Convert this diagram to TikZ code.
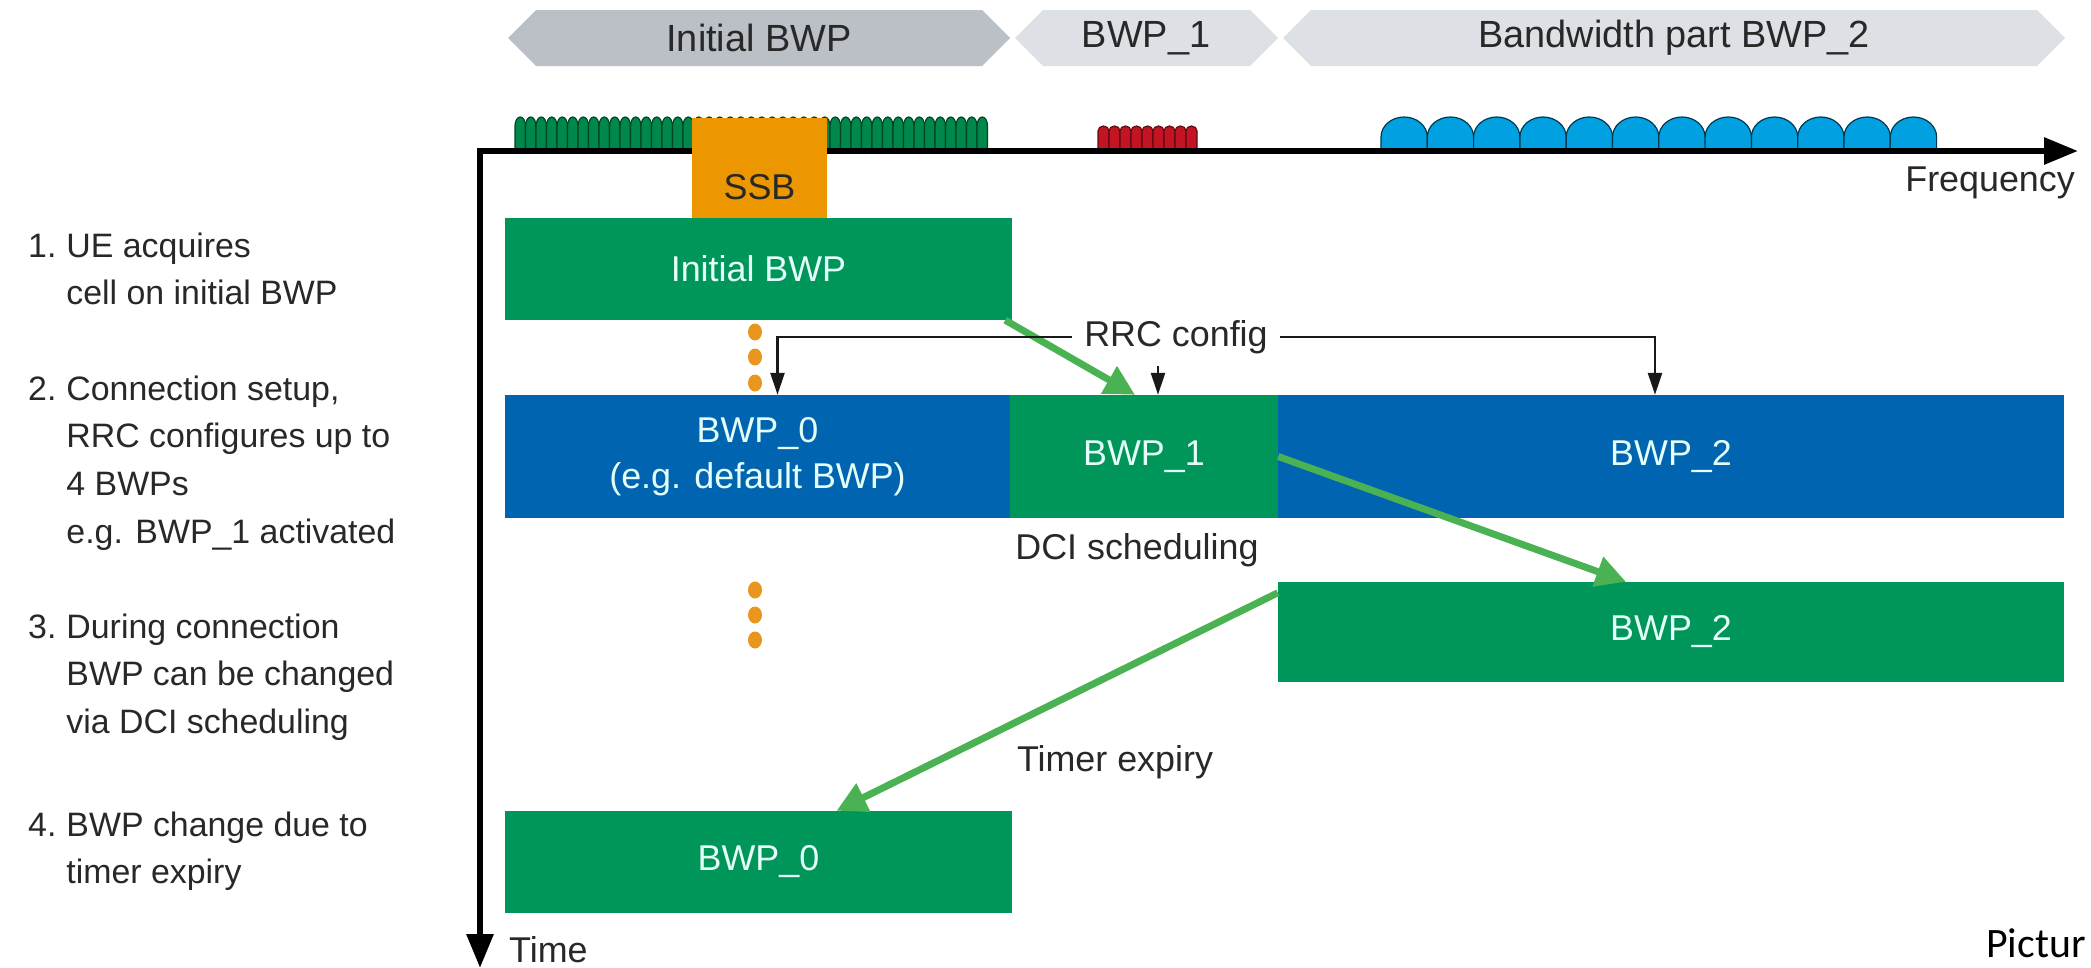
\documentclass[tikz,border=0pt]{standalone}
\usepackage{fontspec}
\setmainfont{Liberation Sans}
\newfontfamily\captionfont{Carlito}
\usetikzlibrary{arrows.meta}

\definecolor{bwpgreen}{RGB}{0,150,90}
\definecolor{bwpblue}{RGB}{0,100,176}
\definecolor{ssborange}{RGB}{236,150,0}
\definecolor{switchgreen}{RGB}{74,178,82}
\definecolor{dotorange}{RGB}{232,150,30}
\definecolor{banddark}{RGB}{187,192,198}
\definecolor{bandlight}{RGB}{221,224,228}
\definecolor{boxtext}{RGB}{228,255,250}
\definecolor{inkgray}{RGB}{40,40,40}
\definecolor{scsgreen}{RGB}{0,135,75}
\definecolor{scsred}{RGB}{195,20,35}
\definecolor{scsblue}{RGB}{0,160,225}

\tikzset{
  lbl/.style={inner sep=0pt, text=inkgray, font=\fontsize{36}{46}\selectfont},
  bandtext/.style={inner sep=0pt, text=inkgray, font=\fontsize{38}{46}\selectfont},
  steptext/.style={inner sep=0pt, anchor=base west, text=inkgray, font=\fontsize{34}{48}\selectfont},
  bwpbox/.style={inner sep=0pt, align=center, text=boxtext, font=\fontsize{36}{46}\selectfont},
  tooth/.style={line width=1.2bp},
  axisline/.style={line width=6bp, {Triangle[length=34bp,width=26bp]}-{Triangle[length=34bp,width=26bp]}},
  rrcline/.style={draw=black!90, line width=2.5bp, -{Triangle[length=22bp,width=14bp]}},
  bwpswitch/.style={draw=switchgreen, line width=7bp, -{Triangle[length=30bp,width=30bp]}},
}

\begin{document}
\begin{tikzpicture}[x=1bp,y=-1bp]
\useasboundingbox (0,0) rectangle (2091,968);

% bandwidth parts along the carrier
\fill[banddark] (508,38) -- (536,10) -- (982,10) -- (1010,38) -- (982,66) -- (536,66) -- cycle;
\fill[bandlight] (1015,38) -- (1043,10) -- (1250,10) -- (1278,38) -- (1250,66) -- (1043,66) -- cycle;
\fill[bandlight] (1283,38) -- (1311,10) -- (2037,10) -- (2065,38) -- (2037,66) -- (1311,66) -- cycle;
\node[bandtext] (bandInit) at (759,38) {Initial BWP};
\node[bandtext] (bandOne) at (1146,38) {BWP\_1};
\node[bandtext] (bandTwo) at (1674,38) {Bandwidth part BWP\_2};

% subcarriers (numerology per BWP)
\foreach \i in {0,...,44} {
  \pgfmathsetmacro\x{515+\i*10.5}
  \filldraw[tooth, fill=scsgreen, draw=scsgreen!50!black] (\x,151) -- (\x,126)
    arc[start angle=180, end angle=360, x radius=5.25, y radius=9] -- (\x+10.5,151) -- cycle;
}
\foreach \i in {0,...,8} {
  \pgfmathsetmacro\x{1098+\i*11}
  \filldraw[tooth, fill=scsred, draw=scsred!50!black] (\x,151) -- (\x,131)
    arc[start angle=180, end angle=360, x radius=5.5, y radius=5] -- (\x+11,151) -- cycle;
}
\foreach \i in {0,...,11} {
  \pgfmathsetmacro\x{1381+\i*46.3}
  \filldraw[tooth, fill=scsblue, draw=scsblue!35!black] (\x,151) -- (\x,137)
    arc[start angle=180, end angle=360, x radius=23.15, y radius=20] -- (\x+46.3,151) -- cycle;
}

% frequency / time axes
\coordinate (freqEnd) at (2078,151);
\coordinate (origin) at (480,151);
\coordinate (timeEnd) at (480,968);
\draw[axisline] (freqEnd) -- (origin) -- (timeEnd);
\node[lbl, anchor=east] (freq) at (2075,183) {Frequency};
\node[lbl, anchor=west] (time) at (509,950) {Time};

% BWP boxes over time
\node[bwpbox, fill=ssborange, minimum width=135bp, minimum height=100bp] (ssb) at (759.5,168) {};
\node[lbl] (ssbLabel) at (759.5,187) {SSB};
\node[bwpbox, fill=bwpgreen, minimum width=507bp, minimum height=102bp] (init) at (758.5,269) {Initial BWP};
\node[bwpbox, fill=bwpblue, minimum width=505bp, minimum height=123bp] (bwpA) at (757.5,456.5) {BWP\_0\\(e.g. default BWP)};
\node[bwpbox, fill=bwpgreen, minimum width=268bp, minimum height=123bp] (bwpB) at (1144,456.5) {BWP\_1};
\node[bwpbox, fill=bwpblue, minimum width=786bp, minimum height=123bp] (bwpC) at (1671,456.5) {BWP\_2};
\node[bwpbox, fill=bwpgreen, minimum width=786bp, minimum height=100bp] (bwpD) at (1671,632) {BWP\_2};
\node[bwpbox, fill=bwpgreen, minimum width=507bp, minimum height=102bp] (bwpE) at (758.5,862) {BWP\_0};

% idle gaps
\foreach \y in {332,357,383,590,615,640}
  \fill[dotorange] (755,\y) ellipse[x radius=7, y radius=8.5];

% BWP switching
\draw[bwpswitch] ([xshift=-7bp]init.south east) -- ([xshift=-9bp]bwpB.north);
\draw[bwpswitch] (bwpB.east) -- ([xshift=-45bp]bwpD.north);
\draw[bwpswitch] ([yshift=-11bp]bwpD.north west) -- ([xshift=78bp]bwpE.north);

% RRC configuration of the BWPs
\node[lbl, inner sep=12bp] (rrc) at (1176,337) {RRC config};
\draw[rrcline] (rrc.west) -| ([xshift=20bp]bwpA.north);
\draw[rrcline] ([xshift=14bp]bwpB.north |- rrc.south) -- ([xshift=14bp]bwpB.north);
\draw[rrcline] (rrc.east) -| ([xshift=-16bp]bwpC.north);

\node[lbl] (dci) at (1137,550) {DCI scheduling};
\node[lbl] (timer) at (1115,762) {Timer expiry};

% procedure steps
\node[steptext] (step1) at (28,257) {\begin{tabular}[t]{@{}l@{\hspace{10bp}}l@{}}1.&UE acquires\\&cell on initial BWP\end{tabular}};
\node[steptext] (step2) at (28,400) {\begin{tabular}[t]{@{}l@{\hspace{10bp}}l@{}}2.&Connection setup,\\&RRC configures up to\\&4 BWPs\\&e.g. BWP\_1 activated\end{tabular}};
\node[steptext] (step3) at (28,638) {\begin{tabular}[t]{@{}l@{\hspace{10bp}}l@{}}3.&During connection\\&BWP can be changed\\&via DCI scheduling\end{tabular}};
\node[steptext] (step4) at (28,836) {\begin{tabular}[t]{@{}l@{\hspace{10bp}}l@{}}4.&BWP change due to\\&timer expiry\end{tabular}};

\node[inner sep=0pt, anchor=base west, font=\captionfont\fontsize{42}{50}\selectfont] (pic) at (1986,957) {Pictur};
\end{tikzpicture}
\end{document}
